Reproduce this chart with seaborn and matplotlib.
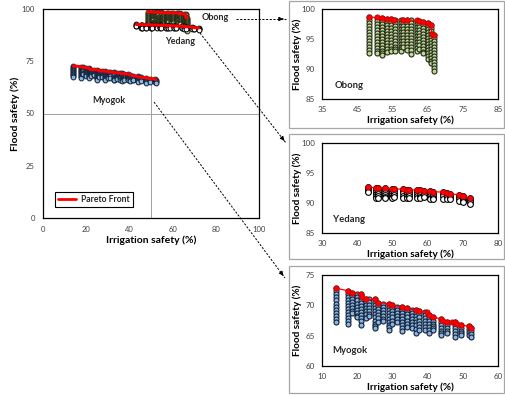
import numpy as np
import pandas as pd
import matplotlib
matplotlib.use("Agg")
import matplotlib.pyplot as plt
import seaborn as sns
from matplotlib.patches import Rectangle, FancyArrowPatch
from matplotlib.lines import Line2D

sns.set_style("white")
plt.rcParams["font.family"] = ["Lato", "DejaVu Sans"]

# ---------------- data ----------------
# Obong: solution columns (irrigation x, list of flood safety values)
obong_x = [48.4, 50.7, 52.1, 53.4, 54.5, 55.6, 57.5, 58.1, 59.1, 60.2, 62.0, 62.6, 63.6, 65.1, 66.0, 66.8]
obong_y = [
    [98.6, 98.1, 97.6, 97.1, 96.6, 96.1, 95.6, 95.1, 94.6, 94.1, 93.6, 93.1, 92.6],
    [98.5, 98.0, 97.5, 97.0, 96.5, 96.0, 95.5, 95.0, 94.5, 94.0, 93.5, 93.0, 92.6],
    [98.5, 98.0, 97.5, 97.0, 96.5, 96.0, 95.5, 95.0, 94.5, 94.0, 93.5, 93.0, 92.6, 92.3],
    [98.4, 97.9, 97.4, 96.9, 96.4, 95.9, 95.4, 94.9, 94.4, 93.9, 93.4, 92.8],
    [98.4, 97.9, 97.4, 96.9, 96.4, 95.9, 95.4, 94.9, 94.4, 93.9, 93.4, 93.0],
    [98.2, 97.7, 97.2, 96.7, 96.2, 95.7, 95.2, 94.7, 94.2, 93.7, 93.3, 93.0],
    [98.2, 97.7, 97.2, 96.7, 96.2, 95.7, 95.2, 94.7, 94.2, 93.7, 93.3, 93.0],
    [98.2, 97.7, 97.2, 96.7, 96.2, 95.7, 95.2, 94.7, 94.2, 93.6],
    [98.2, 97.7, 97.2, 96.7, 96.2, 95.7, 95.2, 94.7, 94.2, 93.7, 93.2],
    [98.1, 97.6, 97.1, 96.6, 96.1, 95.6, 95.1, 94.6, 94.1, 93.6, 93.1, 92.5],
    [98.0, 97.5, 97.0, 96.5, 96.0, 95.5, 95.0, 94.5, 94.0, 93.5, 93.0],
    [98.0, 97.5, 97.0, 96.5, 96.0, 95.5, 95.0, 94.5, 94.0, 93.4],
    [97.9, 97.4, 96.9, 96.4, 95.9, 95.4, 94.9, 94.4, 93.9, 93.4, 92.9, 92.6],
    [97.7, 97.2, 96.7, 96.2, 95.7, 95.2, 94.7, 94.2, 93.7, 93.2, 92.7, 92.2, 91.6],
    [97.4, 96.9, 96.4, 95.9, 95.4, 94.9, 94.4, 93.9, 93.4, 92.9, 92.4, 91.9, 91.4, 91.0],
    [95.7, 95.2, 94.7, 94.2, 93.7, 93.2, 92.7, 92.2, 91.7, 91.2, 90.7, 90.2, 89.6],
]
obong_pf_x = [48.4, 50.7, 52.1, 53.4, 54.5, 55.5, 58.1, 59.2, 61.9, 62.6, 63.6, 65.2, 66.0, 66.2, 66.8]
obong_pf_y = [98.6, 98.6, 98.5, 98.4, 98.4, 98.2, 98.2, 98.2, 98.1, 98.0, 97.9, 97.7, 97.4, 95.9, 95.7]

# Yedang
yedang_x = [43.2, 45.3, 46.0, 47.9, 49.8, 50.5, 52.9, 54.1, 54.8, 56.9, 57.8, 59.0, 60.7, 61.4,
            64.5, 65.4, 66.4, 69.0, 70.1, 72.0]
yedang_y = [
    [92.6, 92.3, 92.0, 91.8],
    [92.55, 92.2, 91.85, 91.5, 91.15, 90.8],
    [92.5, 92.15, 91.8, 91.45, 91.1, 90.8],
    [92.45, 92.1, 91.75, 91.4, 91.05, 90.8],
    [92.4, 92.05, 91.7, 91.35, 91.0, 90.8],
    [92.35, 92.0, 91.65, 91.3, 90.95],
    [92.3, 91.95, 91.6, 91.25, 90.9],
    [92.25, 91.9, 91.55, 91.2, 90.85],
    [92.2, 91.85, 91.5, 91.15, 90.8],
    [92.15, 91.8, 91.45, 91.1, 90.8],
    [92.1, 91.75, 91.4, 91.05, 90.8],
    [92.0, 91.65, 91.3, 90.95],
    [91.95, 91.6, 91.25, 90.9, 90.7],
    [91.9, 91.55, 91.2, 90.85, 90.7],
    [91.8, 91.45, 91.1, 90.75],
    [91.65, 91.3, 90.95, 90.6],
    [91.5, 91.15, 90.8, 90.6],
    [91.4, 91.05, 90.7, 90.35],
    [91.1, 90.75, 90.4, 90.2],
    [90.9, 90.55, 90.2, 89.9],
]
yedang_pf_x = [43.2, 45.3, 46.0, 47.9, 49.8, 50.5, 52.9, 54.1, 54.8, 56.9, 57.8, 59.0, 60.7, 61.4,
               64.5, 65.4, 66.4, 69.0, 70.1, 72.0]
yedang_pf_y = [92.6, 92.55, 92.5, 92.45, 92.4, 92.35, 92.3, 92.25, 92.2, 92.15, 92.1, 92.0, 91.95, 91.9,
               91.8, 91.65, 91.5, 91.4, 91.1, 90.9]

# Myogok
myogok_x = [14.0, 17.5, 18.6, 20.0, 21.2, 22.4, 23.4, 25.1, 26.0, 27.4, 28.9, 30.0, 31.2, 32.8,
            34.1, 35.5, 36.6, 37.6, 39.3, 40.5, 41.6, 43.9, 45.4, 47.9, 49.4, 51.8, 52.3]
myogok_y = [
    [72.8, 72.3, 71.8, 71.3, 70.8, 70.3, 69.8, 69.3, 68.8, 68.3, 67.8, 67.3],
    [72.4, 71.9, 71.4, 70.9, 70.4, 69.9, 69.4, 68.9, 68.4, 67.9, 67.4, 67.0],
    [72.1, 71.6, 71.1, 70.6, 70.1, 69.6, 69.1, 68.7],
    [71.8, 71.3, 70.8, 70.3, 69.8, 69.3, 68.8, 68.3, 68.0],
    [71.9, 71.4, 70.9, 70.4, 69.9, 69.4, 68.9, 68.4, 67.9, 67.4, 66.8],
    [71.0, 70.5, 70.0, 69.5, 69.0, 68.5, 67.9],
    [71.0, 70.5, 70.0, 69.5, 69.0, 68.5, 68.3],
    [71.0, 70.5, 70.0, 69.5, 69.0, 68.5, 68.0, 67.5, 67.0, 66.6, 66.2],
    [70.4, 69.9, 69.4, 68.9, 68.4, 67.9, 67.3],
    [70.3, 69.8, 69.3, 68.8, 68.3, 67.8, 67.5],
    [70.3, 69.8, 69.3, 68.8, 68.3, 67.8, 67.3, 66.8, 66.4, 66.0],
    [70.0, 69.5, 69.0, 68.5, 68.0, 67.5, 67.0],
    [69.8, 69.3, 68.8, 68.3, 67.8, 67.2],
    [69.7, 69.2, 68.7, 68.2, 67.7, 67.2, 66.7, 66.2, 65.8],
    [69.5, 69.0, 68.5, 68.0, 67.5, 67.0, 66.5],
    [69.3, 68.8, 68.3, 67.8, 67.3, 66.8, 66.2],
    [69.2, 68.7, 68.2, 67.7, 67.2, 66.7, 66.1, 65.5],
    [69.0, 68.5, 68.0, 67.5, 67.0, 66.5, 66.0],
    [68.9, 68.4, 67.9, 67.4, 66.9, 66.4, 66.0],
    [68.4, 67.9, 67.4, 66.9, 66.4, 65.9, 65.4],
    [68.0, 67.5, 67.0, 66.6, 66.2, 65.9],
    [67.8, 67.3, 66.8, 66.3, 65.8, 65.4, 65.1],
    [67.3, 66.8, 66.3, 65.8, 65.4],
    [67.2, 66.7, 66.2, 65.7, 65.2, 64.8],
    [66.7, 66.2, 65.8, 65.4, 65.1],
    [66.6, 66.1, 65.6, 65.1],
    [66.2, 65.7, 65.2, 64.7],
]
myogok_pf_x = [14.0, 17.5, 18.6, 21.2, 21.4, 22.4, 25.1, 26.0, 28.9, 30.0, 32.8, 34.1, 36.6, 37.6,
               39.7, 40.5, 41.6, 43.9, 44.3, 45.4, 46.8, 47.9, 48.3, 49.4, 51.8, 52.3]
myogok_pf_y = [72.8, 72.4, 72.1, 71.9, 71.4, 71.0, 71.0, 70.4, 70.3, 70.0, 69.7, 69.5, 69.2, 69.0,
               68.9, 68.4, 68.0, 67.8, 67.5, 67.3, 67.2, 67.2, 66.9, 66.7, 66.6, 66.2]

main_ticks = [0, 20, 40, 60, 80, 100]
main_yticks = [0, 25, 50, 75, 100]

# styles
STY = {
    "Obong": dict(face="#c4d79b", edge="#1f2a14"),
    "Yedang": dict(face="#ffffff", edge="#000000"),
    "Myogok": dict(face="#8eb4e3", edge="#0f2236"),
}


def col_df(xs, ys):
    rows = [(x, y) for x, yl in zip(xs, ys) for y in yl]
    return pd.DataFrame(rows, columns=["irr", "flood"])


def pf_df(xs, ys):
    return pd.DataFrame({"irr": xs, "flood": ys})


regions = {
    "Obong": (col_df(obong_x, obong_y), pf_df(obong_pf_x, obong_pf_y)),
    "Yedang": (col_df(yedang_x, yedang_y), pf_df(yedang_pf_x, yedang_pf_y)),
    "Myogok": (col_df(myogok_x, myogok_y), pf_df(myogok_pf_x, myogok_pf_y)),
}

W, H = 506, 395
fig = plt.figure(figsize=(W / 100, H / 100), dpi=100)


def ax_px(l, t, r, b):
    return fig.add_axes([l / W, 1 - b / H, (r - l) / W, (b - t) / H])


def fx(x):
    return x / W


def fy(y):
    return 1 - y / H


TICKC = "#404040"

# outer gray boxes around insets
for (t, b) in [(1, 128), (134, 259), (266, 393)]:
    fig.patches.append(Rectangle((fx(289), fy(b)), (504 - 289) / W, (b - t) / H,
                                 transform=fig.transFigure, fill=False,
                                 edgecolor="#a6a6a6", lw=0.9))


def style_axes(ax, tick_fs, pad):
    for s in ax.spines.values():
        s.set_color("#000000")
        s.set_linewidth(0.9)
    ax.tick_params(length=0, labelsize=tick_fs, colors=TICKC, pad=pad)
    ax.grid(False)


# ---------- main axes ----------
ax = ax_px(43, 9, 259, 218)
ax.axvline(50, color="#a0a0a0", lw=0.7, zorder=0)
ax.axhline(50, color="#a0a0a0", lw=0.7, zorder=0)
for name in ["Myogok", "Obong", "Yedang"]:
    df, pf = regions[name]
    sns.scatterplot(data=df, x="irr", y="flood", ax=ax, color=STY[name]["face"],
                    edgecolor=STY[name]["edge"], linewidth=0.7, s=12, legend=False, zorder=2)
for name in ["Myogok", "Obong", "Yedang"]:
    df, pf = regions[name]
    sns.lineplot(data=pf, x="irr", y="flood", ax=ax, sort=False, estimator=None,
                 color="#ff0000", lw=2.2, zorder=3, legend=False)
ax.set_xlim(0, 100)
ax.set_ylim(0, 100)
ax.set_xticks(main_ticks)
ax.set_yticks(main_yticks)
style_axes(ax, 5.5, 6)
ax.set_xlabel("Irrigation safety (%)", fontsize=7.5, fontweight="bold", color="#000000")
ax.set_ylabel("Flood safety (%)", fontsize=7.5, fontweight="bold", color="#000000")
ax.xaxis.set_label_coords(0.5, -0.082)
ax.yaxis.set_label_coords(-0.108, 0.5)
ax.text(73.5, 96, "Obong", fontsize=6.5, fontweight="bold", va="center", ha="left")
ax.text(56.5, 84.5, "Yedang", fontsize=6.5, fontweight="bold", va="center", ha="left")
ax.text(23, 56, "Myogok", fontsize=6.5, fontweight="bold", va="center", ha="left")
leg = ax.legend(handles=[Line2D([], [], color="#ff0000", lw=2)], labels=["Pareto Front"],
                loc="lower left", bbox_to_anchor=(0.035, 0.03), fancybox=False,
                frameon=True, edgecolor="#000000", framealpha=1,
                prop=dict(size=6.2, weight="bold"), handlelength=2.0,
                borderpad=0.4, handletextpad=0.6)
leg.get_frame().set_linewidth(0.8)

# ---------- insets ----------
insets = [
    ("Obong", (322, 9, 498, 99), (35, 85), [35, 45, 55, 65, 75, 85], (85, 100), [85, 90, 95, 100], (38.7, 87.3)),
    ("Yedang", (322, 143, 498, 233), (30, 80), [30, 40, 50, 60, 70, 80], (85, 100), [85, 90, 95, 100], (33.0, 87.3)),
    ("Myogok", (322, 275, 498, 366), (10, 60), [10, 20, 30, 40, 50, 60], (60, 75), [60, 65, 70, 75], (12.8, 62.6)),
]
for name, box, xl, xt, yl, yt, lab in insets:
    ia = ax_px(*box)
    df, pf = regions[name]
    sns.scatterplot(data=df, x="irr", y="flood", ax=ia, color=STY[name]["face"],
                    edgecolor=STY[name]["edge"], linewidth=0.8, s=13 if name != "Yedang" else 17,
                    legend=False, zorder=2)
    sns.lineplot(data=pf, x="irr", y="flood", ax=ia, sort=False, estimator=None,
                 color="#ff0000", lw=0.9, marker="o", markersize=3.8,
                 markerfacecolor="#ff0000", markeredgecolor="#c00000", markeredgewidth=0.5,
                 zorder=3, legend=False)
    ia.set_xlim(*xl)
    ia.set_ylim(*yl)
    ia.set_xticks(xt)
    ia.set_yticks(yt)
    style_axes(ia, 5.8, 5)
    ia.set_xlabel("Irrigation safety (%)", fontsize=7.2, fontweight="bold", color="#000000")
    ia.set_ylabel("Flood safety (%)", fontsize=7.2, fontweight="bold", color="#000000")
    ia.xaxis.set_label_coords(0.5, -0.185)
    ia.yaxis.set_label_coords(-0.115, 0.5)
    ia.text(lab[0], lab[1], name, fontsize=6.8, fontweight="bold", va="center", ha="left")


# ---------- arrows ----------
def arrow(p0, p1):
    x0, y0 = p0
    x1, y1 = p1
    line = Line2D([fx(x0), fx(x1)], [fy(y0), fy(y1)], transform=fig.transFigure,
                  color="#000000", lw=0.7, linestyle=(0, (2.2, 1.6)))
    fig.add_artist(line)
    d = np.hypot(x1 - x0, y1 - y0)
    hx = x1 - (x1 - x0) / d * 6
    hy = y1 - (y1 - y0) / d * 6
    ar = FancyArrowPatch((fx(hx), fy(hy)), (fx(x1), fy(y1)), transform=fig.transFigure,
                         arrowstyle="-|>", mutation_scale=6, color="#000000", lw=0.7)
    fig.add_artist(ar)


arrow((236, 19), (286, 19))
arrow((200, 33), (286, 143))
arrow((154, 102), (285, 278))

fig.savefig("out.png", dpi=100)
